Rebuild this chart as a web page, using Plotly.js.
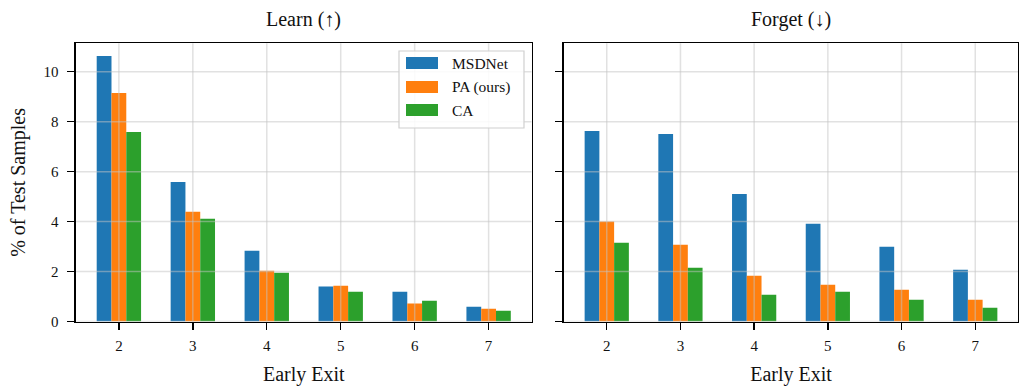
<!DOCTYPE html>
<html>
<head>
<meta charset="utf-8">
<script src="https://cdn.plot.ly/plotly-3.0.1.min.js"></script>
<style>html,body{margin:0;padding:0;background:#fff;}#chart{width:1019px;height:386px;}</style>
</head>
<body>
<div id="chart"></div>
<script>
// ---- data ----
const exits = [2, 3, 4, 5, 6, 7];
const seriesNames = ["MSDNet", "PA (ours)", "CA"];
const learnMSDNet = [10.63, 5.59, 2.83, 1.40, 1.19, 0.59];
const learnPA     = [9.15, 4.39, 2.03, 1.43, 0.72, 0.51];
const learnCA     = [7.59, 4.11, 1.95, 1.19, 0.83, 0.43];
const forgetMSDNet = [7.63, 7.51, 5.11, 3.91, 2.99, 2.07];
const forgetPA     = [4.00, 3.07, 1.83, 1.47, 1.27, 0.87];
const forgetCA     = [3.15, 2.15, 1.07, 1.19, 0.87, 0.55];
const yTicks = [0, 2, 4, 6, 8, 10];
const panelTitles = ["Learn (↑)", "Forget (↓)"];
const xTitle = "Early Exit";
const yTitle = "% of Test Samples";

// ---- style ----
const colors = ["#1f77b4", "#ff7f0e", "#2ca02c"];
const W = 1019, H = 386;
const px = x => x / W;
const py = y => 1 - y / H;
const FONT = "Liberation Serif, DejaVu Serif, serif";
const gridColor = "rgba(196,196,196,0.5)";

const learn = [learnMSDNet, learnPA, learnCA];
const forget = [forgetMSDNet, forgetPA, forgetCA];

const traces = [];
learn.forEach((vals, i) => traces.push({
  type: "bar", x: exits, y: vals, name: seriesNames[i], xaxis: "x", yaxis: "y",
  marker: {color: colors[i], line: {width: 0}}, showlegend: false, hoverinfo: "x+y+name"
}));
forget.forEach((vals, i) => traces.push({
  type: "bar", x: exits, y: vals, name: seriesNames[i], xaxis: "x2", yaxis: "y2",
  marker: {color: colors[i], line: {width: 0}}, showlegend: false, hoverinfo: "x+y+name"
}));

const xRange = [1.42, 7.58];
const yRange = [0, 11.14];

const axCommon = {
  showline: true, mirror: true, linecolor: "#000", linewidth: 1.6,
  ticks: "outside", ticklen: 7, tickwidth: 1.4, tickcolor: "#000",
  showgrid: false, zeroline: false,
  tickfont: {family: FONT, size: 15, color: "#111"}
};
const titleFont = {family: FONT, size: 20, color: "#111"};

const shapes = [];
// grid lines drawn above bars (like the reference)
[["x", "y"], ["x2", "y2"]].forEach(([xa, ya]) => {
  exits.forEach(e => shapes.push({
    type: "line", layer: "above", xref: xa, yref: ya + " domain",
    x0: e, x1: e, y0: 0, y1: 1, line: {color: gridColor, width: 1.5}
  }));
  yTicks.forEach(t => shapes.push({
    type: "line", layer: "above", xref: xa + " domain", yref: ya,
    x0: 0, x1: 1, y0: t, y1: t, line: {color: gridColor, width: 1.5}
  }));
});

// manual legend (wide patches as in reference)
shapes.push({
  type: "rect", layer: "above", xref: "paper", yref: "paper",
  x0: px(399), x1: px(524), y0: py(128), y1: py(51),
  fillcolor: "rgba(255,255,255,0.85)", line: {color: "#d0d0d0", width: 1.2}
});
const annotations = [];
const rowY = [63, 87, 110];
seriesNames.forEach((n, i) => {
  shapes.push({
    type: "rect", layer: "above", xref: "paper", yref: "paper",
    x0: px(406), x1: px(438), y0: py(rowY[i] + 6), y1: py(rowY[i] - 6),
    fillcolor: colors[i], line: {width: 0}
  });
  annotations.push({
    xref: "paper", yref: "paper", x: px(450), y: py(rowY[i]),
    xanchor: "left", yanchor: "middle", showarrow: false, text: n,
    font: {family: FONT, size: 15.5, color: "#111"}
  });
});

// panel titles
[[76, 531.5], [564, 1018]].forEach((d, i) => annotations.push({
  xref: "paper", yref: "paper", x: px((d[0] + d[1]) / 2), y: py(20),
  xanchor: "center", yanchor: "middle", showarrow: false, text: panelTitles[i],
  font: titleFont
}));

const layout = {
  width: W, height: H,
  margin: {l: 0, r: 0, t: 0, b: 0},
  paper_bgcolor: "#fff", plot_bgcolor: "#fff",
  barmode: "group", bargap: 0.4, bargroupgap: 0,
  showlegend: false,
  xaxis: Object.assign({}, axCommon, {
    domain: [px(76), px(531.5)], anchor: "y", range: xRange,
    tickvals: exits, ticktext: exits.map(String), ticklabelstandoff: 3,
    title: {text: xTitle, font: titleFont, standoff: 14}
  }),
  yaxis: Object.assign({}, axCommon, {
    domain: [py(321.5), py(43.3)], anchor: "x", range: yRange,
    tickvals: yTicks, ticktext: yTicks.map(String), ticklabelstandoff: 6,
    title: {text: yTitle, font: titleFont, standoff: 12}
  }),
  xaxis2: Object.assign({}, axCommon, {
    domain: [px(564), px(1018)], anchor: "y2", range: xRange,
    tickvals: exits, ticktext: exits.map(String), ticklabelstandoff: 3,
    title: {text: xTitle, font: titleFont, standoff: 14}
  }),
  yaxis2: Object.assign({}, axCommon, {
    domain: [py(321.5), py(43.3)], anchor: "x2", range: yRange,
    tickvals: yTicks, showticklabels: false
  }),
  shapes: shapes,
  annotations: annotations
};

Plotly.newPlot("chart", traces, layout, {displayModeBar: false, staticPlot: true});
</script>
</body>
</html>
